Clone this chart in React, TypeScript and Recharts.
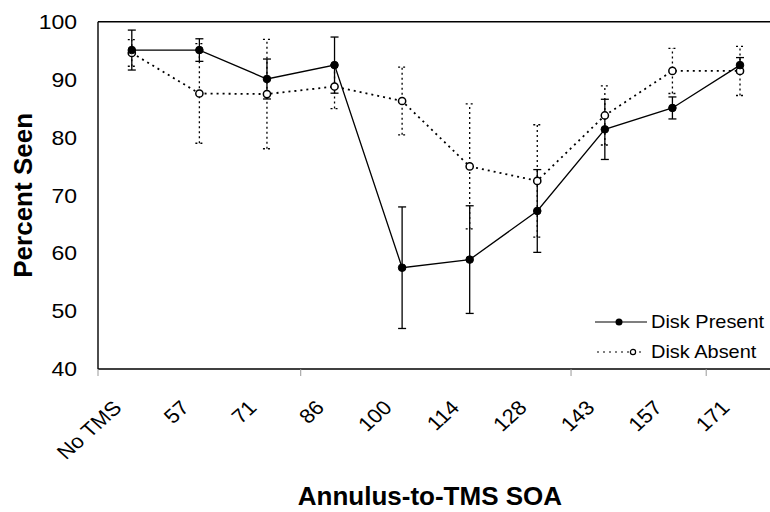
import * as React from 'react';
import { ErrorBar, Label, Legend, Line, LineChart, ReferenceLine, XAxis, YAxis } from 'recharts';

const categories = ['No TMS', '57', '71', '86', '100', '114', '128', '143', '157', '171'];
const presentValues = [95.1, 95.1, 90.1, 92.5, 57.5, 58.9, 67.3, 81.4, 85.1, 92.5];
const presentErrors = [3.45, 1.95, 3.45, 4.85, 10.5, 9.3, 7.15, 5.2, 1.9, 1.3];
const absentValues = [94.6, 87.6, 87.5, 88.8, 86.3, 75.0, 72.5, 83.8, 91.5, 91.5];
const absentErrors = [2.3, 8.6, 9.45, 3.8, 5.85, 10.8, 9.7, 5.1, 3.9, 4.25];
const yTicks = [40, 50, 60, 70, 80, 90, 100];
// the original only shows a few of the category boundary ticks
const boundaryTicks = [0, 3, 7, 9];

const FONT = '"Liberation Sans", Arial, sans-serif';
const HALF_BAND = 33.8;

const data = categories.map((soa, i) => ({
  soa,
  present: presentValues[i],
  presentErr: presentErrors[i],
  absent: absentValues[i],
  absentErr: absentErrors[i],
}));

function XTick({ x, y, payload, index }: any) {
  return (
    <g>
      {boundaryTicks.includes(index) && (
        <line x1={x - HALF_BAND} x2={x - HALF_BAND} y1={y} y2={y + 7} stroke="#999" strokeWidth={1} />
      )}
      <g transform={`translate(${x - 9},${y + 40}) scale(1.1,1) rotate(-45)`}>
        <text x={0} y={0} textAnchor="end" fontFamily={FONT} fontSize={20} fill="#000">
          {payload.value}
        </text>
      </g>
    </g>
  );
}

function YTick({ x, y, payload }: any) {
  return (
    <g transform={`translate(${x - 21},${y}) scale(1.15,1)`}>
      <text x={0} y={0} dy="0.36em" textAnchor="end" fontFamily={FONT} fontSize={20} fill="#000">
        {payload.value}
      </text>
    </g>
  );
}

function LegendContent() {
  const row: React.CSSProperties = { display: 'flex', alignItems: 'center', height: 30 };
  const txt: React.CSSProperties = {
    display: 'inline-block',
    fontFamily: FONT,
    fontSize: 19,
    marginLeft: 4,
    transform: 'scaleX(1.05)',
    transformOrigin: 'left center',
    whiteSpace: 'nowrap',
  };
  return (
    <div>
      <div style={row}>
        <svg width={52} height={14}>
          <line x1={0} x2={52} y1={7} y2={7} stroke="#000" strokeWidth={1.2} />
          <circle cx={24} cy={7} r={3.5} fill="#000" />
        </svg>
        <span style={txt}>Disk Present</span>
      </div>
      <div style={row}>
        <svg width={52} height={14}>
          <line x1={2} x2={50} y1={7} y2={7} stroke="#000" strokeWidth={1.2} strokeDasharray="2 4" />
          <circle cx={38} cy={7} r={2.6} fill="#fff" stroke="#000" strokeWidth={1.2} />
        </svg>
        <span style={txt}>Disk Absent</span>
      </div>
    </div>
  );
}

export default function App() {
  return (
    <div>
      <style>{'body{margin:0;overflow:hidden;background:#fff}'}</style>
      <LineChart
        width={780}
        height={512}
        data={data}
        margin={{ top: 21.7, right: 6.2, bottom: 0, left: 0 }}
      >
        <XAxis
          dataKey="soa"
          padding={{ left: HALF_BAND, right: HALF_BAND }}
          height={143}
          interval={0}
          axisLine={{ stroke: '#000', strokeWidth: 1.4 }}
          tickLine={false}
          tickSize={0}
          tickMargin={0}
          tick={<XTick />}
        >
          <Label
            content={({ viewBox }: any) => (
              <text
                x={viewBox.x + viewBox.width / 2 - 6}
                y={505}
                textAnchor="middle"
                fontFamily={FONT}
                fontSize={26}
                fontWeight="bold"
                fill="#000"
              >
                Annulus-to-TMS SOA
              </text>
            )}
          />
        </XAxis>
        <YAxis
          domain={[40, 100]}
          ticks={yTicks}
          width={98}
          axisLine={{ stroke: '#000', strokeWidth: 1.4 }}
          tickLine={false}
          tickSize={0}
          tickMargin={0}
          tick={<YTick />}
        >
          <Label
            content={({ viewBox }: any) => {
              const cy = viewBox.y + viewBox.height / 2;
              return (
                <text
                  x={32.5}
                  y={cy}
                  transform={`rotate(-90, 32.5, ${cy})`}
                  textAnchor="middle"
                  fontFamily={FONT}
                  fontSize={26}
                  fontWeight="bold"
                  fill="#000"
                >
                  Percent Seen
                </text>
              );
            }}
          />
        </YAxis>
        <ReferenceLine y={100} stroke="#000" strokeWidth={1.5} />
        <Legend
          layout="horizontal"
          align="center"
          verticalAlign="middle"
          wrapperStyle={{ left: 595, top: 307, width: 180 }}
          content={<LegendContent />}
        />
        <Line
          dataKey="absent"
          stroke="#000"
          strokeWidth={1.8}
          strokeDasharray="2 4"
          dot={{ r: 3.6, fill: '#fff', stroke: '#000', strokeWidth: 1.5, strokeDasharray: 'none' }}
          isAnimationActive={false}
        >
          <ErrorBar dataKey="absentErr" width={4} stroke="#000" strokeWidth={1.3} strokeDasharray="2 3" direction="y" />
        </Line>
        <Line
          dataKey="present"
          stroke="#000"
          strokeWidth={1.3}
          dot={{ r: 3.8, fill: '#000', stroke: '#000', strokeWidth: 1 }}
          isAnimationActive={false}
        >
          <ErrorBar dataKey="presentErr" width={4} stroke="#000" strokeWidth={1.3} direction="y" />
        </Line>
      </LineChart>
    </div>
  );
}
